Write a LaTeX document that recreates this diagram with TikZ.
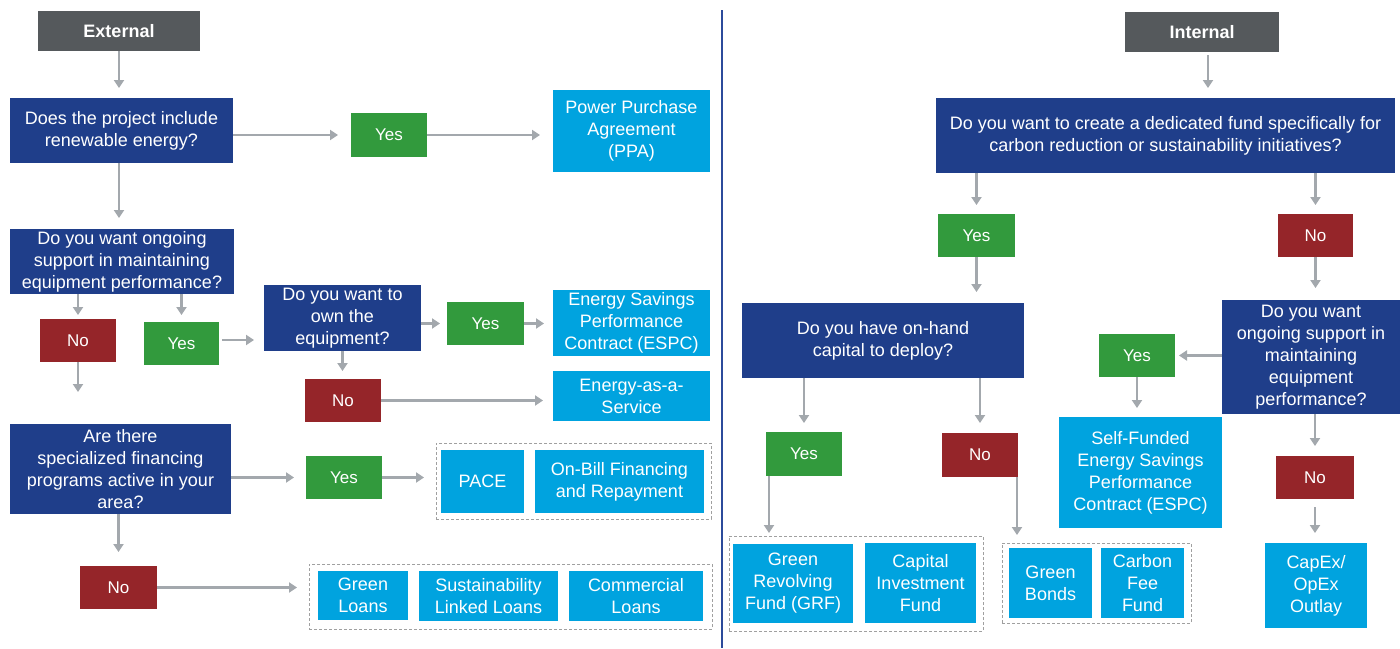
\documentclass[tikz,border=0pt]{standalone}
\usepackage{fontspec}
\setmainfont{Liberation Sans}
\usetikzlibrary{arrows.meta}
\definecolor{cgrey}{HTML}{55595C}
\definecolor{cnavy}{HTML}{1F3E8A}
\definecolor{cgreen}{HTML}{329A3D}
\definecolor{cred}{HTML}{952529}
\definecolor{ccyan}{HTML}{00A3DF}
\definecolor{carrow}{HTML}{A3A8AD}
\definecolor{cdash}{HTML}{A0A0A0}
\definecolor{cdiv}{HTML}{2C4B9B}
\begin{document}
\begin{tikzpicture}[x=1pt,y=-1pt,
  box/.style={inner sep=0pt, outer sep=0pt, align=center, text=white, font=\fontsize{18}{22}\selectfont},
  headbox/.style={box, fill=cgrey, font=\fontsize{18}{22}\selectfont\bfseries},
  qbox/.style={box, fill=cnavy},
  yesbox/.style={box, fill=cgreen, font=\fontsize{17}{20}\selectfont},
  nobox/.style={box, fill=cred, font=\fontsize{17}{20}\selectfont},
  resbox/.style={box, fill=ccyan},
  grp/.style={draw=cdash, line width=1pt, dash pattern=on 3pt off 2pt, inner sep=0pt, outer sep=0pt},
  arr/.style={draw=carrow, line width=2.3pt, -{Triangle[length=8pt,width=10pt]}},
  divider/.style={draw=cdiv, line width=1.3pt}
]
\useasboundingbox[fill=white] (0,0) rectangle (1400,648);

% divider
\draw[divider] (722,10) -- (722,648);

% ---------------- LEFT: External ----------------
\node[headbox, minimum width=162pt, minimum height=40pt] (ext) at (119,31) {External};
\node[qbox, minimum width=223pt, minimum height=65pt] (q1) at (121.5,130.5) {Does the project include\\renewable energy?};
\node[yesbox, minimum width=76pt, minimum height=44pt] (y1) at (389,135) {Yes};
\node[resbox, minimum width=157pt, minimum height=82pt] (ppa) at (631.5,131) {Power Purchase\\Agreement\\(PPA)};
\node[qbox, minimum width=224pt, minimum height=65pt] (q2) at (122,261.5) {Do you want ongoing\\support in maintaining\\equipment performance?};
\node[nobox, minimum width=76pt, minimum height=43pt] (n2) at (78,340.5) {No};
\node[yesbox, minimum width=75pt, minimum height=43pt] (y2) at (181.5,343.5) {Yes};
\node[qbox, minimum width=157pt, minimum height=66pt] (q3) at (342.5,318) {Do you want to\\own the\\equipment?};
\node[yesbox, minimum width=77pt, minimum height=43pt] (y3) at (485.5,323.5) {Yes};
\node[resbox, minimum width=157pt, minimum height=66pt] (espc) at (631.5,323) {Energy Savings\\Performance\\Contract (ESPC)};
\node[nobox, minimum width=76pt, minimum height=43pt] (n3) at (343,400.5) {No};
\node[resbox, minimum width=157pt, minimum height=50pt] (eaas) at (631.5,396) {Energy-as-a-\\Service};
\node[qbox, minimum width=221pt, minimum height=90pt] (q4) at (120.5,469) {Are there\\specialized financing\\programs active in your\\area?};
\node[yesbox, minimum width=76pt, minimum height=43pt] (y4) at (344,477.5) {Yes};
\node[grp, minimum width=275pt, minimum height=76pt] (g1) at (573.5,481) {};
\node[resbox, minimum width=83pt, minimum height=63pt] (pace) at (482.5,481.5) {PACE};
\node[resbox, minimum width=169pt, minimum height=63pt] (obf) at (619.5,481.5) {On-Bill Financing\\and Repayment};
\node[nobox, minimum width=77pt, minimum height=43pt] (n4) at (118.5,587.5) {No};
\node[grp, minimum width=403pt, minimum height=65pt] (g2) at (510.5,596.5) {};
\node[resbox, minimum width=90pt, minimum height=49pt] (gl) at (363,595.5) {Green\\Loans};
\node[resbox, minimum width=139pt, minimum height=50pt] (sll) at (488.5,596) {Sustainability\\Linked Loans};
\node[resbox, minimum width=134pt, minimum height=50pt] (cl) at (636,596) {Commercial\\Loans};

\coordinate (n2end) at (78,392);

\draw[arr, shorten >=10pt] (ext.south) -- (ext.south |- q1.north);
\draw[arr, shorten >=13pt] (q1.east |- y1.west) -- (y1.west);
\draw[arr, shorten >=13pt] (y1.east) -- (y1.east -| ppa.west);
\draw[arr, shorten >=11pt] (q1.south -| ext.south) -- (q2.north -| ext.south);
\draw[arr, shorten >=4pt] (q2.south -| n2.north) -- (n2.north);
\draw[arr, shorten >=7pt] (q2.south -| y2.north) -- (y2.north);
\draw[arr] (n2.south) -- (n2end);
\draw[arr, shorten <=3pt, shorten >=10pt] (y2.east |- 0,340) -- (q3.west |- 0,340);
\draw[arr, shorten >=7pt] (q3.east |- y3.west) -- (y3.west);
\draw[arr, shorten >=9pt] (y3.east) -- (y3.east -| espc.west);
\draw[arr, shorten >=8pt] (q3.south) -- (q3.south |- n3.north);
\draw[arr, shorten >=10pt] (n3.east) -- (n3.east -| eaas.west);
\draw[arr, shorten >=12pt] (q4.east |- y4.west) -- (y4.west);
\draw[arr, shorten >=12pt] (y4.east) -- (y4.east -| g1.west);
\draw[arr, shorten >=14pt] (q4.south -| n4.north) -- (n4.north);
\draw[arr, shorten >=12pt] (n4.east) -- (n4.east -| g2.west);

% ---------------- RIGHT: Internal ----------------
\node[headbox, minimum width=154pt, minimum height=40pt] (int) at (1202,32) {Internal};
\node[qbox, minimum width=459pt, minimum height=75pt] (q5) at (1165.5,135.5) {Do you want to create a dedicated fund specifically for\\carbon reduction or sustainability initiatives?};
\node[yesbox, minimum width=77pt, minimum height=43pt] (y5) at (976.5,235.5) {Yes};
\node[nobox, minimum width=75pt, minimum height=43pt] (n5) at (1315.5,235.5) {No};
\node[qbox, minimum width=282pt, minimum height=75pt] (q6) at (883,340.5) {Do you have on-hand\\capital to deploy?};
\node[qbox, minimum width=178pt, minimum height=114pt] (q7) at (1311,357) {Do you want\\ongoing support in\\maintaining\\equipment\\performance?};
\node[yesbox, minimum width=76pt, minimum height=43pt] (y7) at (1137,355.5) {Yes};
\node[resbox, minimum width=163pt, minimum height=111pt] (sf) at (1140.5,472.5) {Self-Funded\\Energy Savings\\Performance\\Contract (ESPC)};
\node[yesbox, minimum width=76pt, minimum height=44pt] (y6) at (804,454) {Yes};
\node[nobox, minimum width=76pt, minimum height=44pt] (n6) at (980,455) {No};
\node[grp, minimum width=254pt, minimum height=95pt] (gA) at (856,583.5) {};
\node[resbox, minimum width=120pt, minimum height=79pt] (grf) at (793,583.5) {Green\\Revolving\\Fund (GRF)};
\node[resbox, minimum width=111pt, minimum height=80pt] (cif) at (920.5,583) {Capital\\Investment\\Fund};
\node[grp, minimum width=189pt, minimum height=80pt] (gB) at (1096.5,583) {};
\node[resbox, minimum width=83pt, minimum height=70pt] (gb) at (1050.5,583) {Green\\Bonds};
\node[resbox, minimum width=83pt, minimum height=70pt] (cff) at (1142.5,583) {Carbon\\Fee\\Fund};
\node[nobox, minimum width=78pt, minimum height=43pt] (n7) at (1315,477.5) {No};
\node[resbox, minimum width=102pt, minimum height=85pt] (capex) at (1316,585.5) {CapEx/\\OpEx\\Outlay};

\draw[arr, shorten <=3pt, shorten >=10pt] ([xshift=6pt]int.south) -- ([xshift=6pt]int.south |- q5.north);
\draw[arr, shorten >=9pt] (q5.south -| y5.north) -- (y5.north);
\draw[arr, shorten >=9pt] (q5.south -| n5.north) -- (n5.north);
\draw[arr, shorten >=11pt] (y5.south) -- (y5.south |- q6.north);
\draw[arr, shorten >=12pt] (n5.south) -- (n5.south |- q7.north);
\draw[arr, shorten >=4pt] (q7.west |- y7.east) -- (y7.east);
\draw[arr, shorten >=9pt] (y7.south) -- (y7.south |- sf.north);
\draw[arr, shorten >=9pt] (q6.south -| y6.north) -- (y6.north);
\draw[arr, shorten >=10pt] (q6.south -| n6.north) -- (n6.north);
\draw[arr, shorten >=3pt] ([xshift=3pt]y6.south west) -- ([xshift=3pt]y6.south west |- gA.north);
\draw[arr, shorten >=8pt] ([xshift=-1pt]n6.south east) -- ([xshift=-1pt]n6.south east |- gB.north);
\draw[arr, shorten >=10pt] (q7.south -| n7.north) -- (n7.north);
\draw[arr, shorten <=8pt, shorten >=10pt] (n7.south) -- (n7.south |- capex.north);
\end{tikzpicture}
\end{document}
